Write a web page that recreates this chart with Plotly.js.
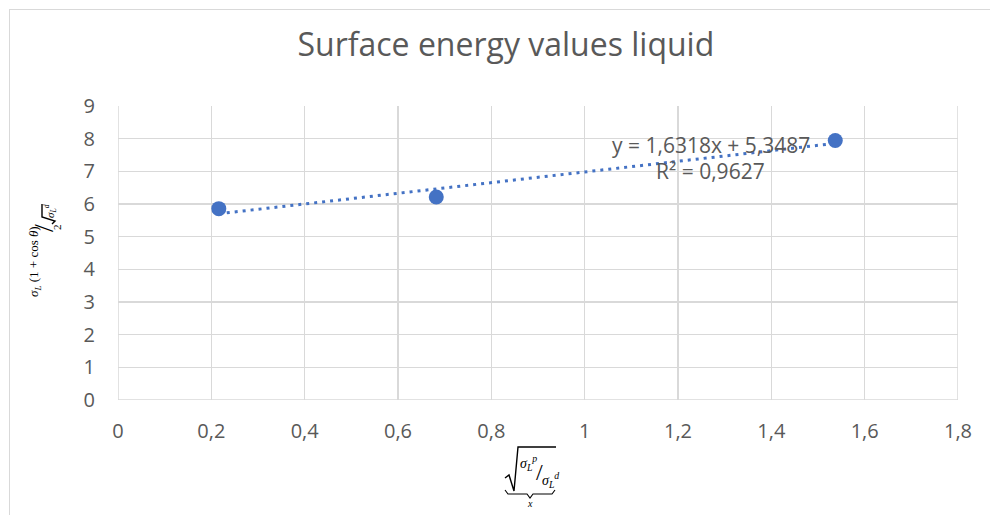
<!DOCTYPE html>
<html>
<head>
<meta charset="utf-8">
<script src="https://cdn.plot.ly/plotly-3.0.1.min.js"></script>
<style>
html,body{margin:0;padding:0;background:#fff;}
#wrap{position:relative;width:990px;height:515px;overflow:hidden;}
#chart{width:990px;height:515px;}
#frame{position:absolute;left:9px;top:9px;width:990px;height:515px;border-left:1.3px solid #d9d9d9;border-top:1.3px solid #d9d9d9;pointer-events:none;}
</style>
</head>
<body>
<div id="wrap"><div id="chart"></div><div id="frame"></div></div>
<script>
// Data
const xValues = [0.216, 0.682, 1.537];
const yValues = [5.857, 6.214, 7.944];
// Trendline as labelled in the chart
const trendSlope = 1.6318;
const trendIntercept = 5.3487;
const trendLabel = "y = 1,6318x + 5,3487";
const r2Label = "R² = 0,9627";
const chartTitle = "Surface energy values liquid";
const xTickVals = [0, 0.2, 0.4, 0.6, 0.8, 1, 1.2, 1.4, 1.6, 1.8];
const yTickVals = [0, 1, 2, 3, 4, 5, 6, 7, 8, 9];

const blue = "#4472C4";
const grey = "#595959";
const grid = "#d9d9d9";
const font = "'Open Sans', sans-serif";
const mathFont = "'Liberation Serif', 'DejaVu Serif', serif";

// plot-area geometry (pixels) for placing the formula titles
const L = 118, R = 958, T = 106, B = 400;
const px = v => (v - L) / (R - L);
const py = v => (B - v) / (B - T);

const xMin = Math.min(...xValues), xMax = Math.max(...xValues);
const trendX = [xMin, xMax];
const trendY = trendX.map(v => trendSlope * v + trendIntercept);

const traces = [
  {x: trendX, y: trendY, mode: "lines", type: "scatter",
   line: {color: blue, width: 3, dash: "3px,5px"}, hoverinfo: "skip"},
  {x: xValues, y: yValues, mode: "markers", type: "scatter",
   marker: {color: blue, size: 15}}
];

function pathOf(pts) {
  return pts.map((p, i) => (i ? "L " : "M ") + px(p[0]) + " " + py(p[1])).join(" ");
}

const layout = {
  width: 990, height: 515,
  margin: {l: L, r: 990 - R, t: T, b: 515 - B},
  paper_bgcolor: "#fff", plot_bgcolor: "#fff",
  separators: ", ",
  showlegend: false,
  font: {family: font, color: grey, size: 20},
  title: {text: chartTitle, font: {family: font, size: 32, color: grey},
          x: 0.511, xanchor: "center", y: 0.913, yanchor: "middle"},
  xaxis: {range: [0, 1.8], tickvals: xTickVals, showgrid: true, gridcolor: grid, gridwidth: 1.5,
          zeroline: false, showline: false, ticks: "", ticklabelstandoff: 17,
          tickfont: {size: 20, color: grey, family: font}},
  yaxis: {range: [0, 9], tickvals: yTickVals, showgrid: true, gridcolor: grid, gridwidth: 1.5,
          zeroline: false, showline: false, ticks: "", ticklabelstandoff: 22,
          tickfont: {size: 20, color: grey, family: font}},
  shapes: [
    {type: "line", xref: "x", yref: "paper", x0: 0, x1: 0, y0: 0, y1: 1, line: {color: grid, width: 1.5}, layer: "below"},
    {type: "line", xref: "x", yref: "paper", x0: 1.8, x1: 1.8, y0: 0, y1: 1, line: {color: grid, width: 1.5}, layer: "below"},
    {type: "line", xref: "paper", yref: "y", x0: 0, x1: 1, y0: 0, y1: 0, line: {color: grid, width: 1.5}, layer: "below"},
    // x-title radical sign with overline
    {type: "path", xref: "paper", yref: "paper",
     path: pathOf([[505, 478], [509, 475], [514, 491], [518, 447], [556, 447]]),
     line: {color: "#000", width: 1.4}},
    // x-title underbrace
    {type: "path", xref: "paper", yref: "paper",
     path: pathOf([[505, 490], [508, 494], [527, 494], [530, 498], [533, 494], [552, 494], [555, 490]]),
     line: {color: "#000", width: 1.1}},
    // y-title radical overline (rotated)
    {type: "path", xref: "paper", yref: "paper",
     path: pathOf([[42, 204], [42, 217], [55, 221], [52, 224]]),
     line: {color: "#000", width: 1.4}}
  ],
  annotations: [
    {xref: "x", yref: "y", x: 1.27, y: 7.82, text: trendLabel, showarrow: false,
     font: {size: 21, color: grey, family: font}, xanchor: "center", yanchor: "middle"},
    {xref: "x", yref: "y", x: 1.27, y: 7.0, text: r2Label, showarrow: false,
     font: {size: 21, color: grey, family: font}, xanchor: "center", yanchor: "middle"},
    // x-axis title: sqrt( sigma_L^p / sigma_L^d ), underbraced x
    {xref: "paper", yref: "paper", x: px(528), y: py(463),
     text: "<i>σ</i><sub><i>L</i></sub><sup><i>p</i></sup>", showarrow: false,
     font: {size: 14, color: "#000", family: mathFont}, xanchor: "center", yanchor: "middle"},
    {xref: "paper", yref: "paper", x: px(539), y: py(472),
     text: "/", showarrow: false,
     font: {size: 24, color: "#000", family: mathFont}, xanchor: "center", yanchor: "middle"},
    {xref: "paper", yref: "paper", x: px(550), y: py(480),
     text: "<i>σ</i><sub><i>L</i></sub><sup><i>d</i></sup>", showarrow: false,
     font: {size: 14, color: "#000", family: mathFont}, xanchor: "center", yanchor: "middle"},
    {xref: "paper", yref: "paper", x: px(530), y: py(503),
     text: "<i>x</i>", showarrow: false, font: {size: 10, color: "#000", family: mathFont},
     xanchor: "center", yanchor: "middle"},
    // y-axis title: sigma_L (1 + cos theta) / 2 sqrt(sigma_L^d)
    {xref: "paper", yref: "paper", x: px(34), y: py(262), textangle: -90,
     text: "<i>σ</i><sub><i>L</i></sub> (1 + cos <i>θ</i>)", showarrow: false,
     font: {size: 13, color: "#000", family: mathFont}, xanchor: "center", yanchor: "middle"},
    {xref: "paper", yref: "paper", x: px(43), y: py(228), textangle: -90,
     text: "/", showarrow: false,
     font: {size: 28, color: "#000", family: mathFont}, xanchor: "center", yanchor: "middle"},
    {xref: "paper", yref: "paper", x: px(57), y: py(227), textangle: -90,
     text: "2", showarrow: false,
     font: {size: 11, color: "#000", family: mathFont}, xanchor: "center", yanchor: "middle"},
    {xref: "paper", yref: "paper", x: px(50), y: py(211), textangle: -90,
     text: "<i>σ</i><sub><i>L</i></sub><sup><i>d</i></sup>", showarrow: false,
     font: {size: 11, color: "#000", family: mathFont}, xanchor: "center", yanchor: "middle"}
  ]
};

Plotly.newPlot("chart", traces, layout, {displayModeBar: false, staticPlot: true});
</script>
</body>
</html>
